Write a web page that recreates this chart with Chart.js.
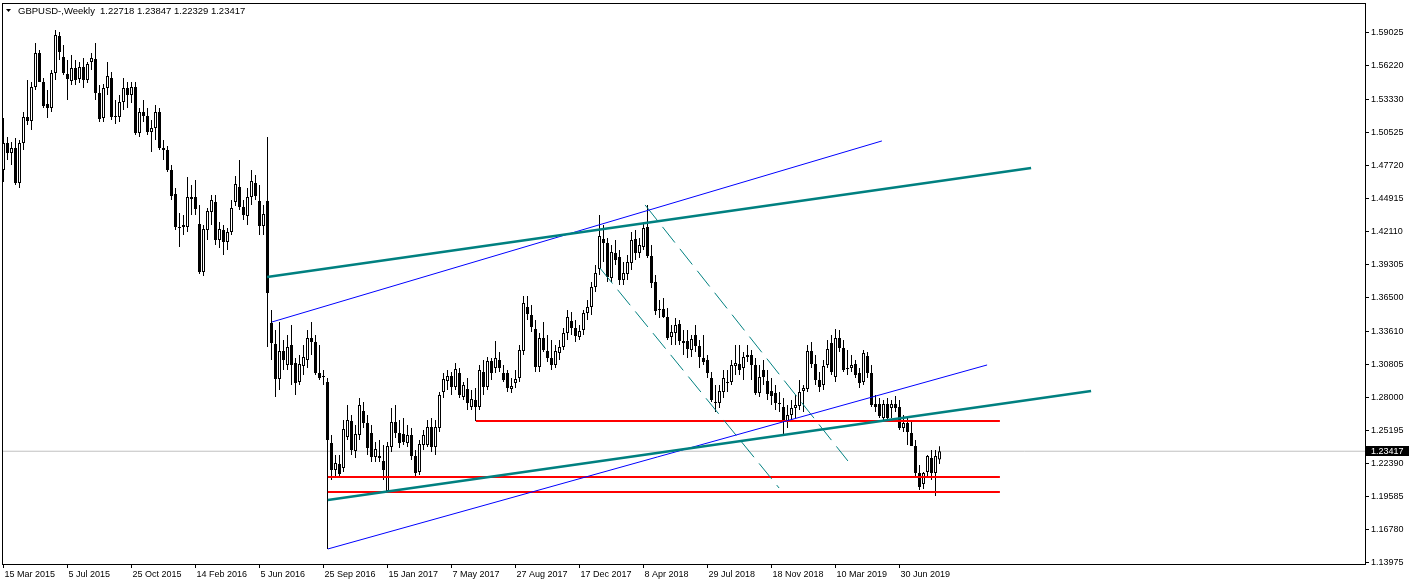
<!DOCTYPE html>
<html>
<head>
<meta charset="utf-8">
<script src="https://cdn.jsdelivr.net/npm/chart.js@4.4.1/dist/chart.umd.min.js"></script>
<style>
  html, body { margin: 0; padding: 0; background: #fff; }
  canvas { display: block; }
</style>
</head>
<body>
<canvas id="chart" width="1411" height="585"></canvas>
<script>
// weekly GBPUSD candles, week 0 = 15 Mar 2015
const symbolName = "GBPUSD-";
const timeframe = "Weekly";

const opens = [
  1.4732, 1.4962, 1.4877, 1.4919, 1.4622, 1.4962, 1.5183, 1.5149, 1.5437, 1.5727,
  1.5480, 1.5293, 1.5259, 1.5557, 1.5871, 1.5693, 1.5548, 1.5489, 1.5599, 1.5506,
  1.5608, 1.5497, 1.5650, 1.5676, 1.5387, 1.5174, 1.5429, 1.5514, 1.5191, 1.5183,
  1.5310, 1.5429, 1.5370, 1.5437, 1.5047, 1.5225, 1.5191, 1.5055, 1.5089, 1.5225,
  1.4919, 1.4902, 1.4732, 1.4528, 1.4248, 1.4265, 1.4248, 1.4486, 1.4503, 1.4273,
  1.3865, 1.4222, 1.4375, 1.4460, 1.4137, 1.4222, 1.4120, 1.4205, 1.4460, 1.4587,
  1.4418, 1.4341, 1.4503, 1.4622, 1.4469, 1.4256, 1.4469, 1.3432, 1.3253, 1.2956,
  1.3194, 1.3075, 1.3245, 1.3092, 1.2930, 1.3066, 1.3117, 1.3304, 1.3270, 1.3007,
  1.2981, 1.2930, 1.2412, 1.2182, 1.2233, 1.2199, 1.2463, 1.2599, 1.2344, 1.2480,
  1.2684, 1.2582, 1.2497, 1.2293, 1.2301, 1.2259, 1.2004, 1.2378, 1.2590, 1.2497,
  1.2488, 1.2412, 1.2480, 1.2301, 1.2165, 1.2395, 1.2395, 1.2548, 1.2378, 1.2539,
  1.2845, 1.2939, 1.2981, 1.2888, 1.3007, 1.2803, 1.2871, 1.2718, 1.2777, 1.2718,
  1.3015, 1.2888, 1.3109, 1.3049, 1.3117, 1.3007, 1.3007, 1.2871, 1.2922, 1.2964,
  1.3194, 1.3568, 1.3500, 1.3381, 1.3058, 1.3304, 1.3194, 1.3134, 1.3075, 1.3177,
  1.3228, 1.3347, 1.3449, 1.3389, 1.3313, 1.3372, 1.3517, 1.3568, 1.3738, 1.3890,
  1.4146, 1.4112, 1.3814, 1.4027, 1.3993, 1.3797, 1.3848, 1.3942, 1.4146, 1.4027,
  1.4078, 1.4248, 1.4001, 1.3780, 1.3551, 1.3551, 1.3483, 1.3313, 1.3347, 1.3423,
  1.3279, 1.3279, 1.3202, 1.3330, 1.3236, 1.3134, 1.3117, 1.2964, 1.2760, 1.2752,
  1.2845, 1.2922, 1.2930, 1.3066, 1.3083, 1.3049, 1.3143, 1.3160, 1.3075, 1.2837,
  1.3032, 1.2939, 1.2854, 1.2837, 1.2752, 1.2718, 1.2590, 1.2650, 1.2709, 1.2726,
  1.2854, 1.2871, 1.3194, 1.3083, 1.2947, 1.2905, 1.3075, 1.3262, 1.2973, 1.3304,
  1.3219, 1.3049, 1.3049, 1.3083, 1.3007, 1.2930, 1.3151, 1.3007, 1.2743, 1.2743,
  1.2624, 1.2743, 1.2709, 1.2743, 1.2718, 1.2539, 1.2582, 1.2497, 1.2386, 1.2157,
  1.2063, 1.2165, 1.2284, 1.2157, 1.22718
];
const highs = [
  1.5174, 1.5013, 1.4970, 1.5004, 1.4987, 1.5225, 1.5497, 1.5480, 1.5812, 1.5752,
  1.5514, 1.5412, 1.5582, 1.5922, 1.5905, 1.5795, 1.5667, 1.5710, 1.5667, 1.5650,
  1.5684, 1.5650, 1.5727, 1.5812, 1.5455, 1.5463, 1.5650, 1.5565, 1.5327, 1.5370,
  1.5514, 1.5480, 1.5480, 1.5480, 1.5259, 1.5327, 1.5259, 1.5157, 1.5285, 1.5259,
  1.4987, 1.4936, 1.4775, 1.4579, 1.4367, 1.4350, 1.4673, 1.4605, 1.4647, 1.4435,
  1.4265, 1.4409, 1.4520, 1.4520, 1.4290, 1.4265, 1.4239, 1.4477, 1.4681, 1.4817,
  1.4477, 1.4579, 1.4732, 1.4690, 1.4605, 1.4435, 1.5013, 1.3542, 1.3372, 1.3440,
  1.3287, 1.3330, 1.3415, 1.3134, 1.3160, 1.3245, 1.3372, 1.3440, 1.3330, 1.3245,
  1.3032, 1.2964, 1.2480, 1.2310, 1.2310, 1.2607, 1.2735, 1.2650, 1.2565, 1.2794,
  1.2760, 1.2650, 1.2565, 1.2420, 1.2437, 1.2395, 1.2420, 1.2709, 1.2735, 1.2607,
  1.2624, 1.2565, 1.2539, 1.2352, 1.2437, 1.2522, 1.2607, 1.2624, 1.2607, 1.2845,
  1.3007, 1.3032, 1.3015, 1.3092, 1.3049, 1.2930, 1.2964, 1.2862, 1.2879, 1.3075,
  1.3117, 1.3143, 1.3134, 1.3279, 1.3185, 1.3075, 1.3032, 1.2964, 1.3032, 1.3245,
  1.3661, 1.3661, 1.3585, 1.3457, 1.3347, 1.3440, 1.3330, 1.3287, 1.3245, 1.3287,
  1.3389, 1.3542, 1.3525, 1.3457, 1.3415, 1.3542, 1.3627, 1.3780, 1.3925, 1.4350,
  1.4265, 1.4154, 1.4095, 1.4137, 1.4052, 1.3950, 1.4010, 1.4205, 1.4222, 1.4154,
  1.4290, 1.4435, 1.4095, 1.3840, 1.3627, 1.3644, 1.3559, 1.3415, 1.3474, 1.3457,
  1.3372, 1.3372, 1.3330, 1.3415, 1.3287, 1.3330, 1.3160, 1.3015, 1.2905, 1.2905,
  1.3032, 1.3032, 1.3117, 1.3245, 1.3245, 1.3185, 1.3245, 1.3202, 1.3134, 1.3075,
  1.3117, 1.3032, 1.2964, 1.2905, 1.2845, 1.2794, 1.2735, 1.2777, 1.2820, 1.2947,
  1.2905, 1.3245, 1.3270, 1.3160, 1.3015, 1.3117, 1.3287, 1.3330, 1.3381, 1.3372,
  1.3287, 1.3202, 1.3160, 1.3117, 1.3049, 1.3202, 1.3185, 1.3075, 1.2820, 1.2794,
  1.2777, 1.2794, 1.2777, 1.2811, 1.2777, 1.2650, 1.2624, 1.2607, 1.2437, 1.2225,
  1.2165, 1.2310, 1.2352, 1.2352, 1.23847
];
const lows = [
  1.4630, 1.4817, 1.4775, 1.4605, 1.4579, 1.4902, 1.5115, 1.5072, 1.5412, 1.5480,
  1.5259, 1.5174, 1.5225, 1.5497, 1.5667, 1.5540, 1.5327, 1.5455, 1.5455, 1.5472,
  1.5429, 1.5472, 1.5582, 1.5327, 1.5140, 1.5140, 1.5370, 1.5157, 1.5123, 1.5140,
  1.5242, 1.5259, 1.5302, 1.5030, 1.5013, 1.5140, 1.5030, 1.4885, 1.4987, 1.4902,
  1.4817, 1.4715, 1.4477, 1.4222, 1.4078, 1.4180, 1.4205, 1.4350, 1.4350, 1.3848,
  1.3831, 1.4137, 1.4265, 1.4095, 1.4069, 1.4010, 1.4052, 1.4180, 1.4426, 1.4392,
  1.4307, 1.4265, 1.4435, 1.4477, 1.4180, 1.4180, 1.3228, 1.3117, 1.2803, 1.2862,
  1.3032, 1.3032, 1.2905, 1.2820, 1.2905, 1.2990, 1.3049, 1.3160, 1.2990, 1.2947,
  1.2905, 1.1511, 1.2097, 1.2114, 1.2114, 1.2165, 1.2437, 1.2310, 1.2284, 1.2437,
  1.2539, 1.2310, 1.2250, 1.2250, 1.2250, 1.2097, 1.1995, 1.2335, 1.2454, 1.2369,
  1.2395, 1.2378, 1.2267, 1.2123, 1.2140, 1.2352, 1.2378, 1.2335, 1.2310, 1.2505,
  1.2794, 1.2862, 1.2820, 1.2862, 1.2794, 1.2777, 1.2692, 1.2692, 1.2599, 1.2692,
  1.2820, 1.2862, 1.2947, 1.3007, 1.3015, 1.2930, 1.2845, 1.2837, 1.2879, 1.2930,
  1.3160, 1.3457, 1.3355, 1.3015, 1.3015, 1.3185, 1.3100, 1.3032, 1.3049, 1.3117,
  1.3202, 1.3287, 1.3330, 1.3270, 1.3287, 1.3330, 1.3457, 1.3500, 1.3695, 1.3840,
  1.3950, 1.3780, 1.3780, 1.3925, 1.3755, 1.3755, 1.3797, 1.3882, 1.3967, 1.3984,
  1.4052, 1.3984, 1.3729, 1.3500, 1.3474, 1.3474, 1.3287, 1.3245, 1.3245, 1.3245,
  1.3160, 1.3134, 1.3143, 1.3185, 1.3049, 1.3075, 1.2964, 1.2760, 1.2675, 1.2709,
  1.2794, 1.2845, 1.2905, 1.2990, 1.2990, 1.2947, 1.3100, 1.2947, 1.2820, 1.2803,
  1.2905, 1.2777, 1.2735, 1.2692, 1.2675, 1.2480, 1.2539, 1.2607, 1.2624, 1.2692,
  1.2675, 1.2845, 1.3049, 1.2905, 1.2845, 1.2862, 1.3049, 1.2990, 1.2930, 1.3185,
  1.3015, 1.2990, 1.3015, 1.2964, 1.2879, 1.2905, 1.2964, 1.2718, 1.2675, 1.2624,
  1.2607, 1.2607, 1.2624, 1.2675, 1.2522, 1.2505, 1.2395, 1.2386, 1.2114, 1.2012,
  1.2021, 1.2114, 1.2097, 1.1961, 1.22329
];
const closes = [
  1.4962, 1.4877, 1.4919, 1.4622, 1.4962, 1.5183, 1.5149, 1.5437, 1.5727, 1.5480,
  1.5276, 1.5259, 1.5557, 1.5880, 1.5735, 1.5557, 1.5506, 1.5599, 1.5497, 1.5608,
  1.5497, 1.5633, 1.5684, 1.5387, 1.5166, 1.5429, 1.5531, 1.5183, 1.5183, 1.5310,
  1.5429, 1.5370, 1.5437, 1.5047, 1.5225, 1.5191, 1.5055, 1.5089, 1.5225, 1.4919,
  1.4902, 1.4732, 1.4511, 1.4248, 1.4239, 1.4248, 1.4503, 1.4503, 1.4401, 1.3865,
  1.4231, 1.4384, 1.4477, 1.4137, 1.4231, 1.4120, 1.4205, 1.4409, 1.4613, 1.4418,
  1.4350, 1.4503, 1.4639, 1.4511, 1.4256, 1.4358, 1.3687, 1.3262, 1.2956, 1.3194,
  1.3117, 1.3228, 1.3075, 1.2922, 1.3083, 1.3143, 1.3304, 1.3270, 1.3007, 1.2964,
  1.2972, 1.2437, 1.2182, 1.2242, 1.2148, 1.2531, 1.2607, 1.2352, 1.2488, 1.2735,
  1.2582, 1.2369, 1.2293, 1.2361, 1.2284, 1.2182, 1.2386, 1.2590, 1.2497, 1.2412,
  1.2420, 1.2480, 1.2301, 1.2157, 1.2403, 1.2480, 1.2548, 1.2378, 1.2548, 1.2820,
  1.2956, 1.2981, 1.2888, 1.3041, 1.2820, 1.2905, 1.2752, 1.2786, 1.2718, 1.3032,
  1.2888, 1.3109, 1.3007, 1.3134, 1.3049, 1.2947, 1.2879, 1.2896, 1.2956, 1.3202,
  1.3602, 1.3508, 1.3398, 1.3058, 1.3304, 1.3202, 1.3134, 1.3075, 1.3194, 1.3228,
  1.3347, 1.3483, 1.3389, 1.3321, 1.3364, 1.3517, 1.3568, 1.3738, 1.3857, 1.4171,
  1.4112, 1.3823, 1.4035, 1.3967, 1.3797, 1.3857, 1.3950, 1.4137, 1.4027, 1.4095,
  1.4239, 1.4001, 1.3772, 1.3534, 1.3542, 1.3483, 1.3304, 1.3355, 1.3415, 1.3279,
  1.3262, 1.3211, 1.3296, 1.3236, 1.3143, 1.3100, 1.3007, 1.2777, 1.2752, 1.2854,
  1.2964, 1.2930, 1.3075, 1.3092, 1.3032, 1.3143, 1.3160, 1.3075, 1.2837, 1.2972,
  1.2972, 1.2828, 1.2811, 1.2752, 1.2743, 1.2590, 1.2650, 1.2709, 1.2735, 1.2845,
  1.2879, 1.3194, 1.3083, 1.2947, 1.2888, 1.3066, 1.3211, 1.3015, 1.3304, 1.3219,
  1.3032, 1.3041, 1.3075, 1.2990, 1.2922, 1.3177, 1.3007, 1.2735, 1.2718, 1.2641,
  1.2743, 1.2624, 1.2743, 1.2709, 1.2539, 1.2582, 1.2505, 1.2386, 1.2157, 1.2038,
  1.2157, 1.2301, 1.2157, 1.2301, 1.23417
];

// time axis: a label every 16 weeks
const tickWeeks = [0, 16, 32, 48, 64, 80, 96, 112, 128, 144, 160, 176, 192, 208, 224];
const tickDates = ["15 Mar 2015", "5 Jul 2015", "25 Oct 2015", "14 Feb 2016", "5 Jun 2016",
  "25 Sep 2016", "15 Jan 2017", "7 May 2017", "27 Aug 2017", "17 Dec 2017", "8 Apr 2018",
  "29 Jul 2018", "18 Nov 2018", "10 Mar 2019", "30 Jun 2019"];
const priceTicks = [1.59025, 1.56220, 1.53330, 1.50525, 1.47720, 1.44915, 1.42110, 1.39305,
  1.36500, 1.33610, 1.30805, 1.28000, 1.25195, 1.22390, 1.19585, 1.16780, 1.13975];

// drawn objects: [week, price] end points
const tealTrendUpper = [[65.9, 1.3823], [256.9, 1.4749]];
const tealTrendLower = [[81.1, 1.1927], [271.9, 1.2853]];
const blueTrendUpper = [[67.1, 1.3440], [219.6, 1.4979]];
const blueTrendLower = [[81.1, 1.1511], [245.9, 1.3075]];
const redLevels = [[118.1, 249.1, 1.2599], [81.1, 249.1, 1.2123], [81.1, 249.1, 1.1995]];
const channelUpper = [[160.4, 1.4435], [211.1, 1.2259]];
const channelLower = [[149.1, 1.3899], [193.9, 1.2029]];

const xMin = -0.375, xMax = 340.375;
const yMin = 1.13832, yMax = 1.61515;
const last = closes.length - 1;

const FONT = { family: "Liberation Sans", size: 9 };

function seg(points) {
  return points.map(p => ({ x: p[0], y: p[1] }));
}
function lineSet(points, color, width, dash) {
  return {
    type: "line",
    data: seg(points),
    borderColor: color,
    borderWidth: width,
    borderDash: dash || [],
    pointRadius: 0,
    fill: false,
    tension: 0,
    order: 0
  };
}

const wickData = highs.map((h, i) => ({ x: i, y: [lows[i], h] }));
const bodyData = opens.map((o, i) => ({ x: i, y: [o, closes[i]] }));
const bodyColors = opens.map((o, i) => closes[i] >= o ? "#ffffff" : "#000000");

const datasets = [
  {
    type: "line",
    data: [{ x: xMin, y: closes[last] }, { x: xMax, y: closes[last] }],
    borderColor: "#c0c0c0",
    borderWidth: 1,
    pointRadius: 0,
    order: 3
  },
  {
    type: "bar",
    data: wickData,
    backgroundColor: "#000000",
    borderWidth: 0,
    barThickness: 1,
    grouped: false,
    inflateAmount: 0,
    order: 2
  },
  {
    type: "bar",
    data: bodyData,
    backgroundColor: bodyColors,
    borderColor: "#000000",
    borderWidth: 1,
    borderSkipped: false,
    barThickness: 3,
    minBarLength: 1,
    grouped: false,
    inflateAmount: 0,
    order: 1
  },
  lineSet(tealTrendUpper, "#008080", 2.6),
  lineSet(tealTrendLower, "#008080", 2.6),
  lineSet(blueTrendUpper, "#0000ff", 1),
  lineSet(blueTrendLower, "#0000ff", 1),
  lineSet(channelUpper, "#008080", 1, [20, 8]),
  lineSet(channelLower, "#008080", 1, [20, 8])
];
redLevels.forEach(r => datasets.push(lineSet([[r[0], r[2]], [r[1], r[2]]], "#ff0000", 2)));

// frame, header text and the current price box
const decorations = {
  id: "decorations",
  afterDraw(chart) {
    const ctx = chart.ctx;
    const a = chart.chartArea;
    ctx.save();
    ctx.strokeStyle = "#000";
    ctx.lineWidth = 1;
    ctx.strokeRect(a.left + 0.5, a.top + 0.5, a.right - a.left, a.bottom - a.top);

    ctx.fillStyle = "#000";
    ctx.beginPath();
    ctx.moveTo(6, 9);
    ctx.lineTo(11, 9);
    ctx.lineTo(8.5, 12);
    ctx.closePath();
    ctx.fill();
    ctx.font = "9.5px 'Liberation Sans'";
    ctx.textBaseline = "alphabetic";
    const ohlc = [opens[last], highs[last], lows[last], closes[last]].map(v => v.toFixed(5)).join(" ");
    ctx.fillText(symbolName + "," + timeframe, 18, 14);
    ctx.fillText(ohlc, 100, 14);

    const y = chart.scales.y.getPixelForValue(closes[last]);
    ctx.fillRect(a.right + 1, Math.round(y) - 5, 43, 10);
    ctx.fillStyle = "#fff";
    ctx.font = "9px 'Liberation Sans'";
    ctx.textBaseline = "middle";
    ctx.fillText(closes[last].toFixed(5), a.right + 6, y + 0.5);
    ctx.restore();
  }
};

new Chart(document.getElementById("chart"), {
  type: "bar",
  data: { datasets: datasets },
  options: {
    responsive: false,
    animation: false,
    devicePixelRatio: 1,
    layout: { padding: { left: 2, top: 3, right: 0, bottom: 0 } },
    plugins: { legend: { display: false }, tooltip: { enabled: false } },
    scales: {
      x: {
        type: "linear",
        min: xMin,
        max: xMax,
        offset: false,
        afterFit(s) { s.height = 21; s.paddingLeft = 0; s.paddingRight = 0; },
        afterBuildTicks(s) { s.ticks = tickWeeks.map(v => ({ value: v })); },
        grid: { drawOnChartArea: false, drawTicks: true, tickLength: 4, color: "#000", offset: false },
        border: { display: true, color: "#000" },
        ticks: {
          autoSkip: false, maxRotation: 0, minRotation: 0, align: "start", padding: 1,
          labelOffset: 1, color: "#000", font: FONT,
          callback: (v, i) => tickDates[i]
        }
      },
      y: {
        type: "linear",
        position: "right",
        min: yMin,
        max: yMax,
        afterFit(s) { s.width = 46; s.paddingTop = 0; s.paddingBottom = 0; },
        afterBuildTicks(s) { s.ticks = priceTicks.map(v => ({ value: v })); },
        grid: { drawOnChartArea: false, drawTicks: true, tickLength: 4, color: "#000" },
        border: { display: true, color: "#000" },
        ticks: {
          autoSkip: false, padding: 2, color: "#000", font: FONT,
          callback: v => Number(v).toFixed(5)
        }
      }
    }
  },
  plugins: [decorations]
});
</script>
</body>
</html>
